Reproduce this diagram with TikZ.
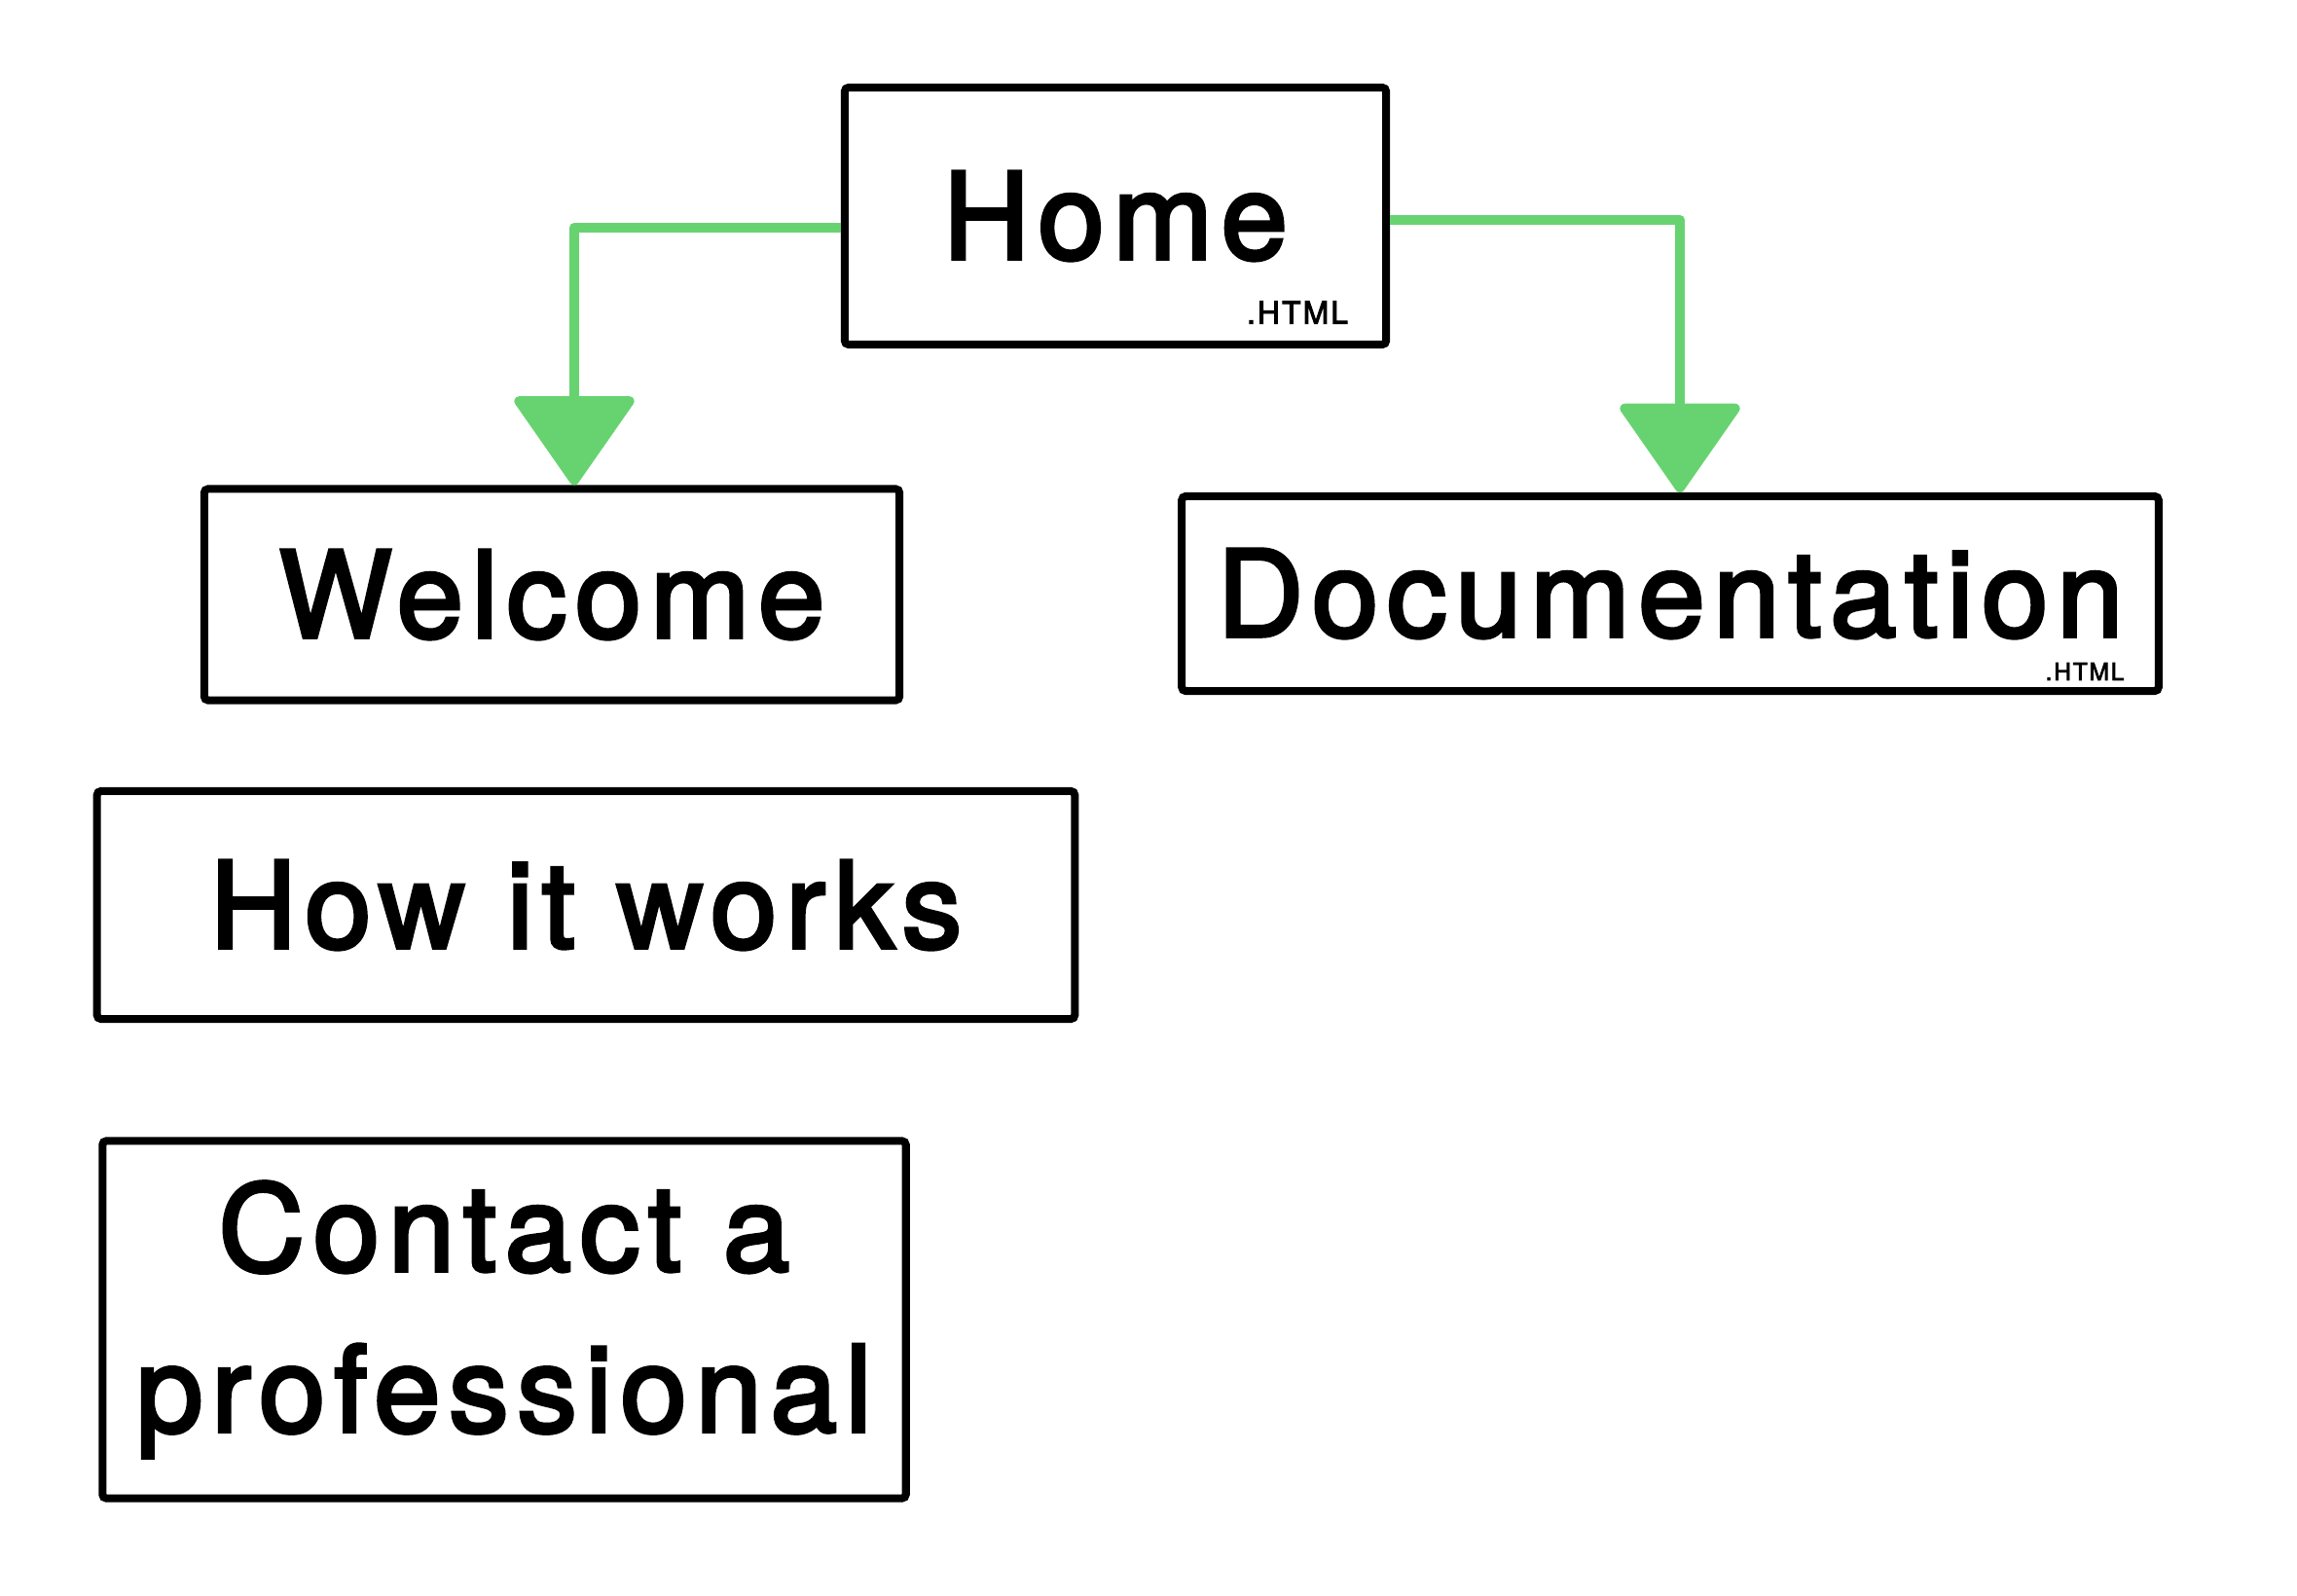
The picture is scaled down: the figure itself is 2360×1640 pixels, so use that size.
\documentclass[tikz,border=0pt]{standalone}
\usepackage{fontspec}
\setmainfont{TeX Gyre Heros}
\newfontfamily\pagefont{TeX Gyre Heros}[FakeBold=3, LetterSpace=7]
\usetikzlibrary{arrows.meta}
\definecolor{linkgreen}{RGB}{103,211,112}

\begin{document}
\begin{tikzpicture}[x=0.01cm, y=-0.01cm,
        page/.style={draw=black, line width=0.8mm, rounded corners=0.4mm, inner sep=0pt, align=center, font=\pagefont\fontsize{35}{47}\selectfont},
        tag/.style={inner sep=0pt, font=\pagefont\fontsize{9}{9}\selectfont},
        link/.style={draw=linkgreen, line width=1mm, line join=round, -{Triangle[length=9.5mm, width=13mm, round]}}]
        \useasboundingbox (0,0) rectangle (2360,1640);
        \node[page, minimum width=55.6mm, minimum height=26.4mm] (home) at (1146,222) {Home};
        \node[page, minimum width=71.4mm, minimum height=21.7mm] (welcome) at (567,611) {Welcome};
        \node[page, minimum width=100.3mm, minimum height=20mm] (doc) at (1716,610) {Documentation};
        \node[page, minimum width=100.4mm, minimum height=23.4mm] (how) at (602,930) {How it works};
        \node[page, minimum width=82.5mm, minimum height=36.7mm] (contact) at (518,1356) {Contact a\\professional};
        \node[tag] (hometag) at (1333,321) {.HTML};
        \node[tag, font=\pagefont\fontsize{7}{7}\selectfont] (doctag) at (2142,690) {.HTML};
        \draw[link] ([yshift=-1.2mm]home.west) -| ([xshift=2.3mm]welcome.north);
        \draw[link] ([yshift=-0.4mm]home.east) -| ([xshift=1mm]doc.north);
\end{tikzpicture}
\end{document}
